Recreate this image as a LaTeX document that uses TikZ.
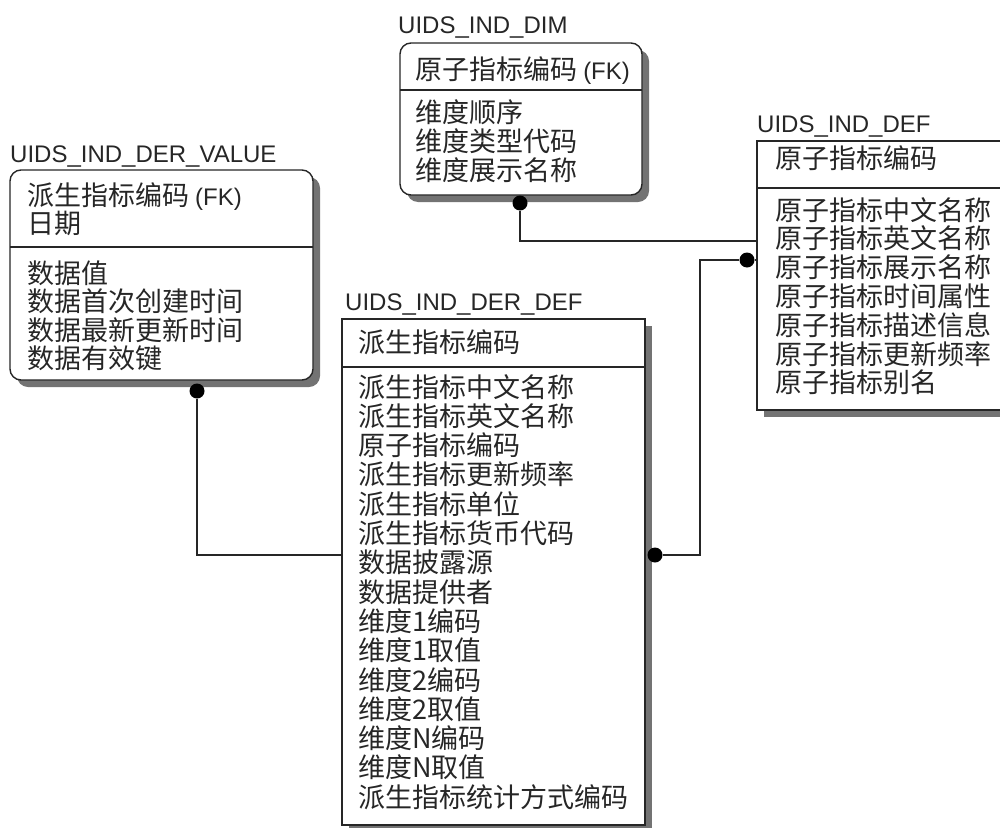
\documentclass[tikz,border=0pt]{standalone}
\usepackage{fontspec}
\setmainfont{Noto Sans CJK SC}
\newfontfamily\lat{Liberation Sans}
\usetikzlibrary{shadows}

\newcommand\fkmark{{\lat\fontsize{24}{29}\selectfont(FK)}}

\tikzset{
  entity/.style={draw=black!85, line width=1.4pt, fill=white, anchor=north west,
    outer sep=0pt, inner sep=0pt,
    drop shadow={shadow xshift=7pt, shadow yshift=-7pt, fill=black!55, opacity=1}},
  weak/.style={entity, rounded corners=11pt},
  title/.style={font=\lat\fontsize{24}{24}\selectfont, anchor=base west, inner sep=0pt, text=black!85},
  attr/.style={font=\fontsize{27}{29}\selectfont, anchor=base west, inner sep=0pt, text=black!85},
  link/.style={draw=black!85, line width=1.4pt},
  fkdot/.style={circle, fill=black, minimum size=15pt, inner sep=0pt}
}

\begin{document}
\begin{tikzpicture}[x=1pt, y=-1pt]
\useasboundingbox (0,0) rectangle (1000,827);

% entity boxes
\node[weak, minimum width=303pt, minimum height=210pt] (derval) at (10,170) {};
\node[weak, minimum width=242pt, minimum height=152pt] (dim) at (400,43) {};
\node[entity, minimum width=260pt, minimum height=269pt] (def) at (757,141) {};
\node[entity, minimum width=303pt, minimum height=506pt] (derdef) at (342,319) {};

% key / non-key dividers
\draw[link] (derval.west |- 0,247) -- (derval.east |- 0,247);
\draw[link] (dim.west |- 0,90) -- (dim.east |- 0,90);
\draw[link] (def.west |- 0,188) -- (def.east |- 0,188);
\draw[link] (derdef.west |- 0,367) -- (derdef.east |- 0,367);

% table names
\node[title] (dervalt) at (10,162) {UIDS\_IND\_DER\_VALUE};
\node[title] (dimt) at (398,33) {UIDS\_IND\_DIM};
\node[title] (deft) at (757,132) {UIDS\_IND\_DEF};
\node[title] (derdeft) at (345,310) {UIDS\_IND\_DER\_DEF};

% UIDS_IND_DER_VALUE
\foreach \t [count=\i from 0] in {派生指标编码 \fkmark, 日期}
  \node[attr] (dervalk\i) at (27, 205+28*\i) {\t};
\foreach \t [count=\i from 0] in {数据值, 数据首次创建时间, 数据最新更新时间, 数据有效键}
  \node[attr] (dervala\i) at (27, 283+28.5*\i) {\t};

% UIDS_IND_DIM
\node[attr] (dimk0) at (415,79) {原子指标编码 \fkmark};
\foreach \t [count=\i from 0] in {维度顺序, 维度类型代码, 维度展示名称}
  \node[attr] (dima\i) at (415, 122+29*\i) {\t};

% UIDS_IND_DEF
\node[attr] (defk0) at (775,168) {原子指标编码};
\foreach \t [count=\i from 0] in {原子指标中文名称, 原子指标英文名称, 原子指标展示名称,
    原子指标时间属性, 原子指标描述信息, 原子指标更新频率, 原子指标别名}
  \node[attr] (defa\i) at (775, 220+28.8*\i) {\t};

% UIDS_IND_DER_DEF
\node[attr] (derdefk0) at (358,352) {派生指标编码};
\foreach \t [count=\i from 0] in {派生指标中文名称, 派生指标英文名称, 原子指标编码,
    派生指标更新频率, 派生指标单位, 派生指标货币代码, 数据披露源, 数据提供者,
    维度1编码, 维度1取值, 维度2编码, 维度2取值, 维度N编码, 维度N取值, 派生指标统计方式编码}
  \node[attr] (derdefa\i) at (358, 397+29.3*\i) {\t};

% relationship dots
\node[fkdot] (valdot) at (197,391) {};
\node[fkdot] (dimdot) at (520,203) {};
\node[fkdot] (ddefdot) at (655,555) {};
\node[fkdot] (defdot) at (747,260) {};

% relationships
\draw[link] (valdot) |- (derdef.west |- ddefdot);
\draw[link] (dimdot) |- (def.west |- 0,241);
\draw[link] (ddefdot) -- ++(45,0) |- (defdot);
\draw[link] (defdot) -- (def.west |- defdot);
\end{tikzpicture}
\end{document}
